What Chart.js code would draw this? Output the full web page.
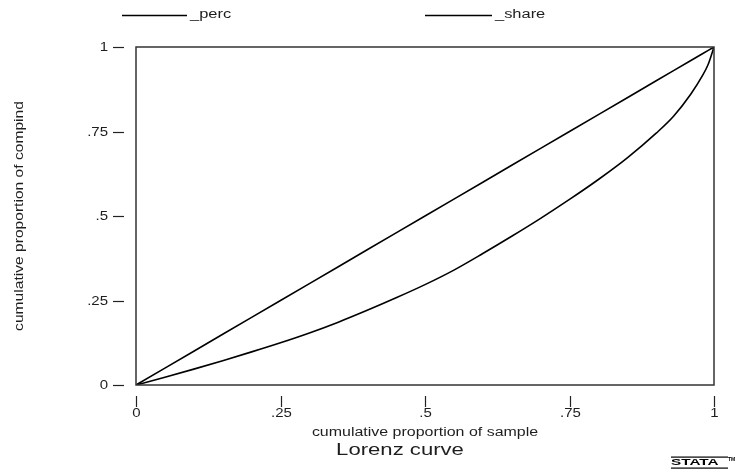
<!DOCTYPE html>
<html>
<head>
<meta charset="utf-8">
<script src="https://cdn.jsdelivr.net/npm/chart.js@4"></script>
<style>
  body { margin: 0; background: #fff; }
  #wrap { width: 737px; height: 472px; }
</style>
</head>
<body>
<div id="wrap"><canvas id="lorenz" width="737" height="472"></canvas></div>
<script>
// cumulative proportion of sample (x) and the two series
const sampleProp = [0, .05, .1, .15, .2, .25, .3, .35, .4, .45, .5, .55, .6, .65, .7, .75, .8, .85, .9, .93, .96, .98, .99, 1];
const percValues = [0, .05, .1, .15, .2, .25, .3, .35, .4, .45, .5, .55, .6, .65, .7, .75, .8, .85, .9, .93, .96, .98, .99, 1];
const shareValues = [0, .023, .047, .072, .098, .125, .154, .186, .221, .258, .297, .34, .389, .44, .493, .549, .608, .672, .745, .795, .861, .915, .949, 1];

const tickValues = [0, .25, .5, .75, 1];
const tickLabels = ["0", ".25", ".5", ".75", "1"];
const seriesNames = ["_perc", "_share"];

const xTitle = "cumulative proportion of sample";
const yTitle = "cumulative proportion of compind";
const chartTitle = "Lorenz curve";

const FONT = '"Liberation Sans", Arial, Helvetica, sans-serif';
const INK = "#1e1e1e";

// stata stretches its fonts sideways, so draw text with a horizontal scale
function wideText(ctx, text, px, py, opts) {
  ctx.save();
  ctx.translate(px, py);
  if (opts.rotate) ctx.rotate(opts.rotate);
  ctx.scale(opts.sx || 1.3, 1);
  ctx.font = opts.font;
  ctx.fillStyle = opts.color || INK;
  ctx.textAlign = opts.align || "center";
  ctx.textBaseline = opts.baseline || "middle";
  ctx.fillText(text, 0, 0);
  ctx.restore();
}

const stataDecor = {
  id: "stataDecor",
  afterDraw(chart) {
    const { ctx, chartArea: a, scales } = chart;
    const xs = scales.x, ys = scales.y;
    ctx.save();

    // plot frame
    ctx.strokeStyle = "#333";
    ctx.lineWidth = 1.5;
    ctx.strokeRect(a.left, a.top, a.right - a.left, a.bottom - a.top);

    // tick marks sit away from the frame, like stata does
    ctx.strokeStyle = "#222";
    ctx.lineWidth = 1.2;
    tickValues.forEach((v, i) => {
      const py = Math.round(ys.getPixelForValue(v)) + 0.5;
      ctx.beginPath();
      ctx.moveTo(a.left - 23, py);
      ctx.lineTo(a.left - 12, py);
      ctx.stroke();
      wideText(ctx, tickLabels[i], a.left - 28, py, { font: "12px " + FONT, align: "right", sx: 1.25 });

      const px = Math.round(xs.getPixelForValue(v)) + 0.5;
      ctx.beginPath();
      ctx.moveTo(px, a.bottom + 11);
      ctx.lineTo(px, a.bottom + 22);
      ctx.stroke();
      wideText(ctx, tickLabels[i], px, a.bottom + 29, { font: "12px " + FONT, sx: 1.25 });
    });

    // axis titles
    wideText(ctx, xTitle, (a.left + a.right) / 2, a.bottom + 48, { font: "12px " + FONT, sx: 1.33 });
    wideText(ctx, yTitle, 20, (a.top + a.bottom) / 2, { font: "12px " + FONT, sx: 1.3, rotate: -Math.PI / 2 });

    // title under the graph
    wideText(ctx, chartTitle, 400, a.bottom + 65, { font: "17px " + FONT, sx: 1.3 });

    // legend keys across the top
    const keys = [[122, 187], [425, 492]];
    ctx.strokeStyle = "#000";
    ctx.lineWidth = 1.3;
    keys.forEach(([x0, x1], i) => {
      ctx.beginPath();
      ctx.moveTo(x0, 15.5);
      ctx.lineTo(x1, 15.5);
      ctx.stroke();
      wideText(ctx, seriesNames[i], x1 + 3, 15, { font: "12px " + FONT, align: "left", sx: 1.37 });
    });

    // little stata mark in the corner
    ctx.fillStyle = "#000";
    ctx.fillRect(671, 456.5, 57, 1.2);
    ctx.fillRect(671, 467.5, 57, 1.2);
    wideText(ctx, "STATA", 671, 463, { font: "bold 9px " + FONT, align: "left", sx: 1.7, color: "#000" });
    wideText(ctx, "TM", 728, 460, { font: "bold 5px " + FONT, align: "left", sx: 1, color: "#000" });

    ctx.restore();
  }
};

const ctx = document.getElementById("lorenz").getContext("2d");
const lorenzChart = new Chart(ctx, {
  type: "scatter",
  data: {
    datasets: [
      {
        label: seriesNames[0],
        data: sampleProp.map((v, i) => ({ x: v, y: percValues[i] })),
        showLine: true,
        borderColor: "#000",
        borderWidth: 1.6,
        pointRadius: 0,
        tension: 0,
      },
      {
        label: seriesNames[1],
        data: sampleProp.map((v, i) => ({ x: v, y: shareValues[i] })),
        showLine: true,
        borderColor: "#000",
        borderWidth: 1.6,
        pointRadius: 0,
        cubicInterpolationMode: "monotone",
      },
    ],
  },
  options: {
    responsive: false,
    animation: false,
    layout: { padding: { left: 136, right: 23, top: 47, bottom: 87 } },
    plugins: { legend: { display: false }, tooltip: { enabled: false } },
    scales: {
      x: { type: "linear", min: 0, max: 1, display: false },
      y: { type: "linear", min: 0, max: 1, display: false },
    },
  },
  plugins: [stataDecor],
});
</script>
</body>
</html>
